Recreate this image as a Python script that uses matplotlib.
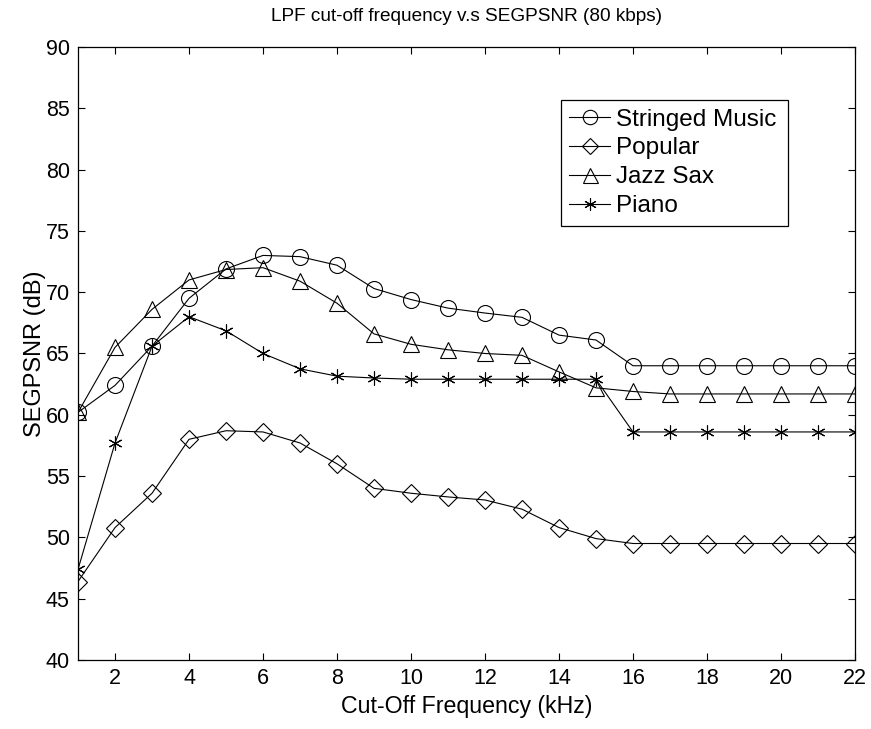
import matplotlib.pyplot as plt

plt.rcParams['font.family'] = ['Liberation Sans', 'DejaVu Sans']

# cut-off frequencies (kHz)
freq = list(range(1, 23))

stringed = [60.2, 62.4, 65.6, 69.5, 71.9, 73.0, 72.9, 72.2, 70.3, 69.4, 68.7,
            68.3, 67.95, 66.5, 66.1, 64.0, 64.0, 64.0, 64.0, 64.0, 64.0, 64.0]
popular = [46.4, 50.8, 53.6, 58.0, 58.7, 58.6, 57.7, 56.0, 54.0, 53.6, 53.3,
           53.05, 52.3, 50.8, 49.9, 49.5, 49.5, 49.5, 49.5, 49.5, 49.5, 49.5]
jazz_sax = [60.2, 65.5, 68.6, 71.0, 71.85, 72.0, 70.9, 69.1, 66.6, 65.75, 65.3,
            65.0, 64.85, 63.5, 62.2, 61.9, 61.7, 61.7, 61.7, 61.7, 61.7, 61.7]
piano = [47.4, 57.7, 65.6, 68.0, 66.85, 65.0, 63.75, 63.15, 63.0, 62.9, 62.9,
         62.9, 62.9, 62.9, 62.9, 58.6, 58.6, 58.6, 58.6, 58.6, 58.6, 58.6]

series_names = ["Stringed Music", "Popular", "Jazz Sax", "Piano"]

fig = plt.figure(figsize=(8.71, 7.29), dpi=100)
ax = fig.add_axes([0.0896, 0.0947, 0.8920, 0.8408])

common = dict(color="black", linewidth=0.8, markerfacecolor="none",
              markeredgecolor="black", markeredgewidth=0.8)
ax.plot(freq, stringed, marker="o", markersize=11.5, label=series_names[0], **common)
ax.plot(freq, popular, marker="D", markersize=9, label=series_names[1], **common)
ax.plot(freq, jazz_sax, marker="^", markersize=12, label=series_names[2], **common)
ax.plot(freq, piano, marker=(6, 2, 0), markersize=10, label=series_names[3], **common)

ax.set_xlim(1, 22)
ax.set_ylim(40, 90)
ax.set_xticks(range(2, 23, 2))
ax.set_yticks(range(40, 91, 5))
ax.tick_params(direction="in", top=True, right=True, labelsize=15.5, length=5,
               width=0.8, pad=6)
for spine in ax.spines.values():
    spine.set_linewidth(0.9)

ax.set_title("LPF cut-off frequency v.s SEGPSNR (80 kbps)", fontsize=13.7, pad=19)
ax.set_xlabel("Cut-Off Frequency (kHz)", fontsize=16.7, labelpad=4)
ax.set_ylabel("SEGPSNR (dB)", fontsize=17, labelpad=0)

# legend box stretched to a fixed width, entries left-aligned
leg = ax.legend(loc="upper left", bbox_to_anchor=(0.6216, 0.9135 - 0.2, 0.2922, 0.2),
                mode="expand", fontsize=17.5, fancybox=False, framealpha=1,
                edgecolor="black", handlelength=1.65, handletextpad=0.25,
                borderpad=0.35, borderaxespad=0, labelspacing=0.28, markerscale=0.9)
leg.get_frame().set_linewidth(0.9)

fig.savefig("out.png", dpi=100)
